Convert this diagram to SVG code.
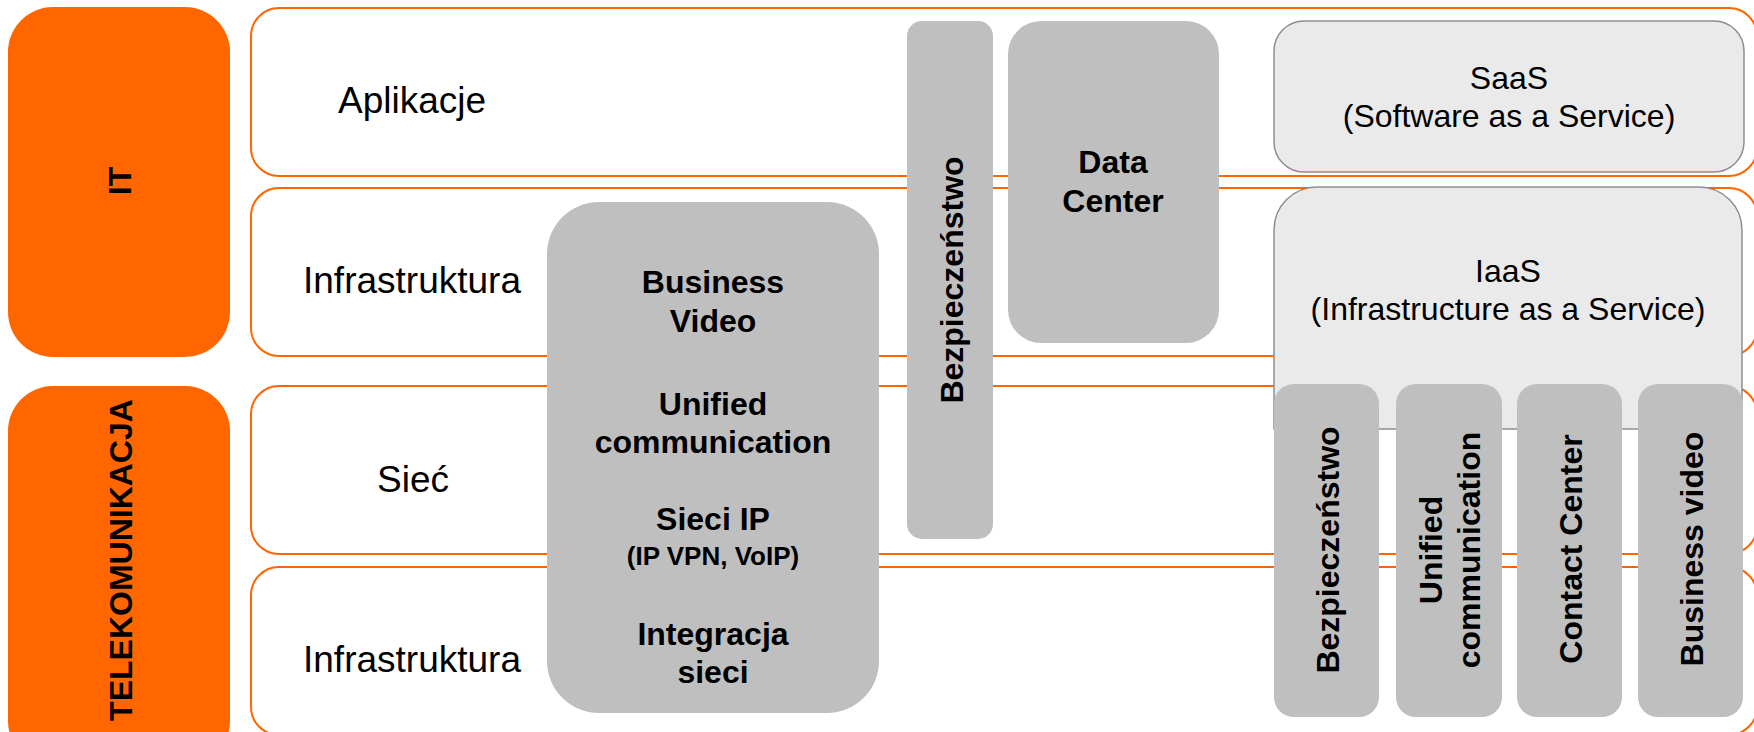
<svg xmlns="http://www.w3.org/2000/svg" width="1754" height="732" viewBox="0 0 1754 732">
<style>
.row{fill:#FFFFFF;stroke:#FF6600;stroke-width:2}
.cat{fill:#FF6600}
.grey{fill:#BFBFBF}
.light{fill:#EAEAEA;stroke:#8C8E96;stroke-width:1.5}
text{font-family:"Liberation Sans",Arial,sans-serif;fill:#000000;text-anchor:middle}
.lbl{font-size:37px}
.b{font-size:32px;font-weight:bold}
.sm{font-size:26px;font-weight:bold}
.r{font-size:32px}
</style>
<rect width="1754" height="732" fill="#FFFFFF"/>
<g id="row-aplikacje"><rect class="row" x="251" y="8" width="1506" height="168" rx="28"/><text class="lbl" x="412" y="113">Aplikacje</text></g>
<g id="row-it-infrastruktura"><rect class="row" x="251" y="188" width="1506" height="168" rx="28"/><text class="lbl" x="412" y="293">Infrastruktura</text></g>
<g id="row-siec"><rect class="row" x="251" y="386" width="1506" height="168" rx="28"/><text class="lbl" x="413" y="492">Sieć</text></g>
<g id="row-tel-infrastruktura"><rect class="row" x="251" y="567" width="1506" height="168" rx="28"/><text class="lbl" x="412" y="672">Infrastruktura</text></g>
<g id="cat-it"><rect class="cat" x="8" y="7" width="222" height="350" rx="45"/><text class="b" transform="translate(131,181) rotate(-90)">IT</text></g>
<g id="cat-telekomunikacja"><rect class="cat" x="8" y="386" width="222" height="380" rx="45"/><text class="b" transform="translate(132,560) rotate(-90)">TELEKOMUNIKACJA</text></g>
<g id="services-main"><rect class="grey" x="547" y="202" width="332" height="511" rx="52"/>
<text class="b" x="713" y="293">Business</text><text class="b" x="713" y="332">Video</text>
<text class="b" x="713" y="415">Unified</text><text class="b" x="713" y="453">communication</text>
<text class="b" x="713" y="530">Sieci IP</text><text class="sm" x="713" y="565">(IP VPN, VoIP)</text>
<text class="b" x="713" y="645">Integracja</text><text class="b" x="713" y="683">sieci</text></g>
<g id="bezpieczenstwo-bar"><rect class="grey" x="907" y="21" width="86" height="518" rx="15"/><text class="b" transform="translate(963,280) rotate(-90)">Bezpieczeństwo</text></g>
<g id="data-center"><rect class="grey" x="1008" y="21" width="211" height="322" rx="33"/><text class="b" x="1113" y="173">Data</text><text class="b" x="1113" y="212">Center</text></g>
<g id="saas"><rect class="light" x="1274" y="21" width="470" height="151" rx="30"/><text class="r" x="1509" y="89">SaaS</text><text class="r" x="1509" y="127">(Software as a Service)</text></g>
<g id="iaas"><path class="light" d="M1274,429 V230 A43,43 0 0 1 1317,187 H1699 A43,43 0 0 1 1742,230 V429 Z"/><text class="r" x="1508" y="282">IaaS</text><text class="r" x="1508" y="320">(Infrastructure as a Service)</text></g>
<g id="svc-bezpieczenstwo"><rect class="grey" x="1274" y="384" width="105" height="333" rx="20"/><text class="b" transform="translate(1339,550) rotate(-90)">Bezpieczeństwo</text></g>
<g id="svc-unified"><rect class="grey" x="1396" y="384" width="106" height="333" rx="20"/><text class="b" transform="translate(1442,550) rotate(-90)">Unified</text><text class="b" transform="translate(1480,550) rotate(-90)">communication</text></g>
<g id="svc-contact-center"><rect class="grey" x="1517" y="384" width="105" height="333" rx="20"/><text class="b" transform="translate(1582,549) rotate(-90)">Contact Center</text></g>
<g id="svc-business-video"><rect class="grey" x="1638" y="384" width="105" height="333" rx="20"/><text class="b" transform="translate(1703,549) rotate(-90)">Business video</text></g>
<g id="connectors"/>
</svg>
